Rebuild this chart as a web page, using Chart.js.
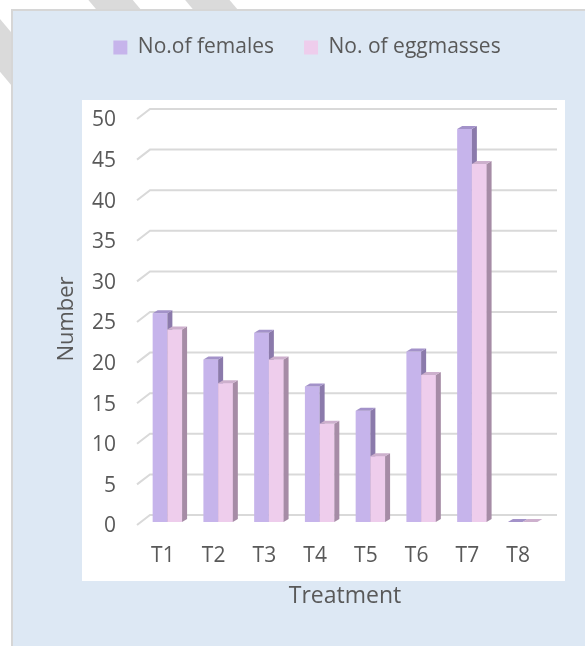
<!DOCTYPE html>
<html>
<head>
<meta charset="utf-8">
<script src="https://cdn.jsdelivr.net/npm/chart.js@4/dist/chart.umd.min.js"></script>
<style>
  html, body { margin: 0; padding: 0; background: #fff; overflow: hidden; }
  #page { position: relative; width: 585px; height: 646px; overflow: hidden; }
  .stripe { position: absolute; width: 34px; height: 220px; background: #dadada; transform: rotate(-40deg); }
  #panel { position: absolute; left: 11px; top: 9px; width: 600px; height: 660px;
           background: #dde8f4; border-left: 2px solid #d6d6d6; border-top: 2px solid #d6d6d6; }
  #plot { position: absolute; left: 82px; top: 100px; width: 483px; height: 481px; background: #fff; }
  canvas { position: absolute; left: 0; top: 0; }
</style>
</head>
<body>
<div id="page">
  <div class="stripe" style="left:-40px; top:-92px;"></div>
  <div class="stripe" style="left:60px; top:-150px;"></div>
  <div class="stripe" style="left:140px; top:-170px;"></div>
  <div id="panel"></div>
  <div id="plot"></div>
  <canvas id="chart" width="585" height="646"></canvas>
</div>
<script>
const categories = ["T1", "T2", "T3", "T4", "T5", "T6", "T7", "T8"];
const females = [25.7, 20, 23.3, 16.7, 13.7, 21, 48.4, 0];
const eggmasses = [23.7, 17.1, 20, 12.1, 8.1, 18.1, 44.1, 0];
const yMax = 50;
const yStep = 5;

const textColor = "#595959";
const fontFamily = "'Open Sans', sans-serif";

// side / top faces for the 3-D look
const faceColors = [
  { side: "#8b7aab", top: "#a392c9" },
  { side: "#a68ca6", top: "#cdb0cd" },
];
const depthX = 5;
const depthY = 3;

function drawFaces(ctx, bar, colors) {
  const { x, y, base, width } = bar.getProps(["x", "y", "base", "width"], true);
  const left = x - width / 2;
  const right = x + width / 2;
  ctx.fillStyle = colors.side;
  ctx.beginPath();
  ctx.moveTo(right, y);
  ctx.lineTo(right + depthX, y - depthY);
  ctx.lineTo(right + depthX, base - depthY);
  ctx.lineTo(right, base);
  ctx.closePath();
  ctx.fill();
  ctx.fillStyle = colors.top;
  ctx.beginPath();
  ctx.moveTo(left, y);
  ctx.lineTo(left + depthX, y - depthY);
  ctx.lineTo(right + depthX, y - depthY);
  ctx.lineTo(right, y);
  ctx.closePath();
  ctx.fill();
}

const wallPlugin = {
  id: "wall",
  afterInit(chart) {
    const legend = chart.legend;
    const fit = legend.fit;
    legend.fit = function () {
      fit.call(this);
      this.height = 109;
    };
  },
  afterLayout(chart) {
    // legend sits a little right of centre in the original
    chart.legend.left += 8;
    chart.legend.right += 8;
  },
  beforeDatasetsDraw(chart) {
    const { ctx, chartArea, scales } = chart;
    const y = scales.y;
    ctx.save();
    ctx.strokeStyle = "#d9d9d9";
    ctx.lineWidth = 2;
    for (let v = 0; v <= yMax; v += yStep) {
      const py = y.getPixelForValue(v);
      ctx.beginPath();
      ctx.moveTo(chartArea.left - 5, py + 3);
      ctx.lineTo(chartArea.left + 8, py - 7);
      ctx.lineTo(chartArea.right + 9, py - 7);
      ctx.stroke();
    }
    ctx.restore();
  },
  afterDatasetsDraw(chart) {
    const ctx = chart.ctx;
    const fMeta = chart.getDatasetMeta(0);
    const eMeta = chart.getDatasetMeta(1);
    ctx.save();
    fMeta.data.forEach((fb, i) => {
      const eb = eMeta.data[i];
      drawFaces(ctx, fb, faceColors[0]);
      eb.draw(ctx);
      drawFaces(ctx, eb, faceColors[1]);
    });
    ctx.restore();
  },
};

const chart = new Chart(document.getElementById("chart"), {
  type: "bar",
  data: {
    labels: categories,
    datasets: [
      {
        label: "No.of females",
        data: females,
        backgroundColor: "#c6b4eb",
        borderWidth: 0,
      },
      {
        label: "No. of eggmasses",
        data: eggmasses,
        backgroundColor: "#eecdec",
        borderWidth: 0,
      },
    ],
  },
  options: {
    responsive: false,
    animation: false,
    devicePixelRatio: 1,
    layout: {
      padding: { top: 7, left: 50, right: 37, bottom: 0 },
    },
    categoryPercentage: 0.58,
    barPercentage: 1.0,
    plugins: {
      legend: {
        position: "top",
        labels: {
          boxWidth: 14,
          boxHeight: 14,
          padding: 30,
          color: textColor,
          font: { family: fontFamily, size: 21 },
        },
      },
      tooltip: { enabled: false },
    },
    scales: {
      x: {
        grid: { display: false, drawTicks: false },
        border: { display: false },
        ticks: {
          color: textColor,
          font: { family: fontFamily, size: 21 },
          padding: 21,
          labelOffset: -4.5,
          maxRotation: 0,
        },
        title: {
          display: true,
          text: "Treatment",
          color: textColor,
          font: { family: fontFamily, size: 23 },
          padding: { top: 0, bottom: 36 },
        },
        afterFit(scale) {
          scale.height = 124;
        },
      },
      y: {
        min: 0,
        max: yMax,
        grid: { display: false, drawTicks: false },
        border: { display: false },
        ticks: {
          stepSize: yStep,
          color: textColor,
          font: { family: fontFamily, size: 21 },
          padding: 26,
          labelOffset: 4.5,
        },
        title: {
          display: true,
          text: "Number",
          color: textColor,
          font: { family: fontFamily, size: 22 },
          padding: { top: 4, bottom: 0 },
        },
        afterFit(scale) {
          scale.width = 92;
        },
      },
    },
  },
  plugins: [wallPlugin],
});
</script>
</body>
</html>
